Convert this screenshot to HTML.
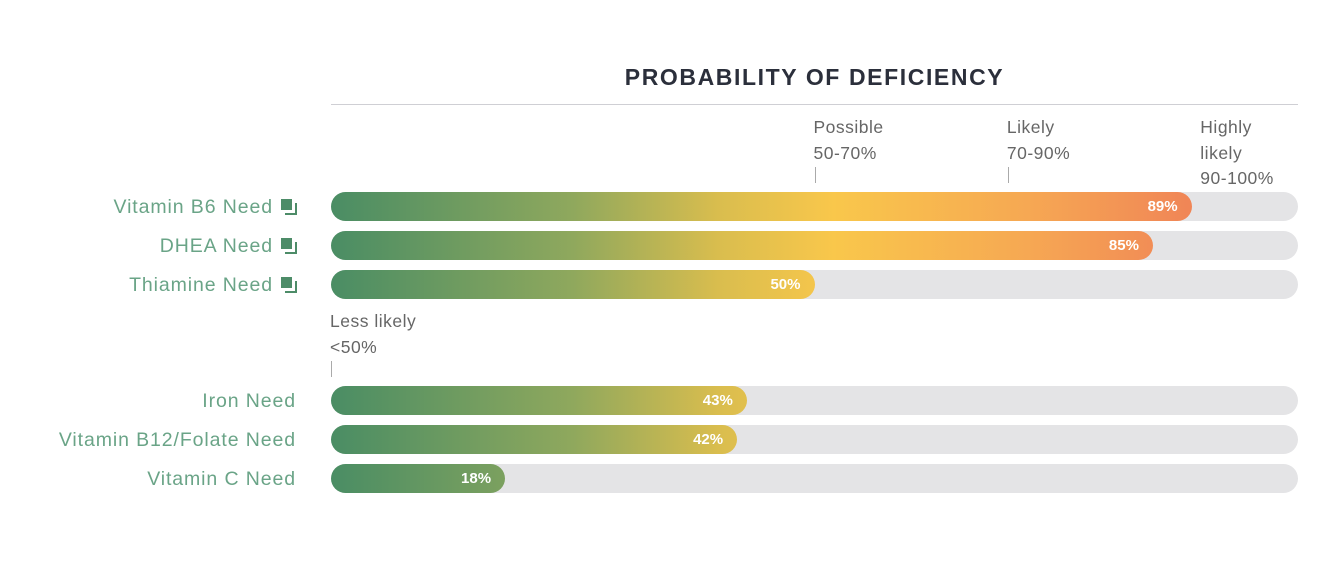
<!DOCTYPE html>
<html><head><meta charset="utf-8"><style>
body{margin:0;width:1338px;height:566px;background:#fff;position:relative;font-family:"Liberation Sans",sans-serif;overflow:hidden}
.abs{position:absolute}
.title{left:331px;width:967px;top:64px;text-align:center;font-weight:bold;font-size:23px;color:#2b2f3b;letter-spacing:1.6px}
.rule{left:331px;width:967px;top:104px;height:1px;background:#cfcfd4}
.lab{right:1042px;font-size:19.5px;color:#6aa487;white-space:nowrap;line-height:31px;letter-spacing:0.9px}
.icon{display:inline-block;width:15px;height:15px;position:relative;margin-left:8px;vertical-align:-1px}
.icon:before{content:"";position:absolute;left:0;top:0;width:11px;height:11px;background:#4d8c68}
.icon:after{content:"";position:absolute;left:4px;top:4px;width:10px;height:10px;border-right:2px solid #4d8c68;border-bottom:2px solid #4d8c68}
.track{left:331px;width:967px;height:29px;border-radius:14.5px;background:#e4e4e6;overflow:hidden}
.fill{position:absolute;left:0;top:0;height:29px;border-radius:0 14.5px 14.5px 0;background:linear-gradient(90deg,#4a8d64 0%,#8fa85d 25%,#d9bd4e 40%,#f9c74b 52%,#f6a853 72%,#ef7f57 92%,#ee6d57 100%);background-size:967px 29px}
.fill span{position:absolute;right:14px;top:0;line-height:29px;color:#fff;font-weight:bold;font-size:15px}
.thr{font-size:17.5px;color:#666;line-height:25.5px;letter-spacing:0.5px}
.tick{width:1px;background:#aaa}
</style></head><body>
<div class="abs title">PROBABILITY OF DEFICIENCY</div>
<div class="abs rule"></div>
<div id="chart"></div>
<script>
const categories=["Vitamin B6 Need","DHEA Need","Thiamine Need","Iron Need","Vitamin B12/Folate Need","Vitamin C Need"];
const values=[89,85,50,43,42,18];
const hasIcon=[true,true,true,false,false,false];
const thrLabels=[["Less likely","<50%"],["Possible","50-70%"],["Likely","70-90%"],["Highly","likely","90-100%"]];
const thrValues=[0,50,70,90];
const rowTops=[192,231,270,386,425,464];
const X0=331,W=967;
const x=v=>X0+v/100*W;
const c=document.getElementById('chart');
categories.forEach((cat,i)=>{
  const l=document.createElement('div');
  l.className='abs lab';l.style.top=rowTops[i]+'px';
  
  
  l.textContent=cat;
  if(hasIcon[i]){const ic=document.createElement('span');ic.className='icon';
    
    
    l.appendChild(ic);}
  c.appendChild(l);
  const t=document.createElement('div');t.className='abs track';t.style.top=rowTops[i]+'px';
  
  
  const f=document.createElement('div');f.className='fill';f.style.width=(x(values[i])-X0)+'px';
  
  
  const s=document.createElement('span');s.textContent=values[i]+'%';
  
  
  f.appendChild(s);t.appendChild(f);c.appendChild(t);
});
thrLabels.forEach((lines,i)=>{
  const d=document.createElement('div');d.className='abs thr';
  const top=i===0?309:115;
  d.style.left=(x(thrValues[i])-1)+'px';d.style.top=top+'px';
  
  
  d.innerHTML=lines.map(s=>s.replace('<','&lt;')).join('<br>');
  c.appendChild(d);
  if(i<3){const tk=document.createElement('div');tk.className='abs tick';
    tk.style.left=(x(thrValues[i]))+'px';tk.style.top=(i===0?361:167)+'px';tk.style.height='16px';
    
    
    c.appendChild(tk);}
});
</script>
</body></html>
